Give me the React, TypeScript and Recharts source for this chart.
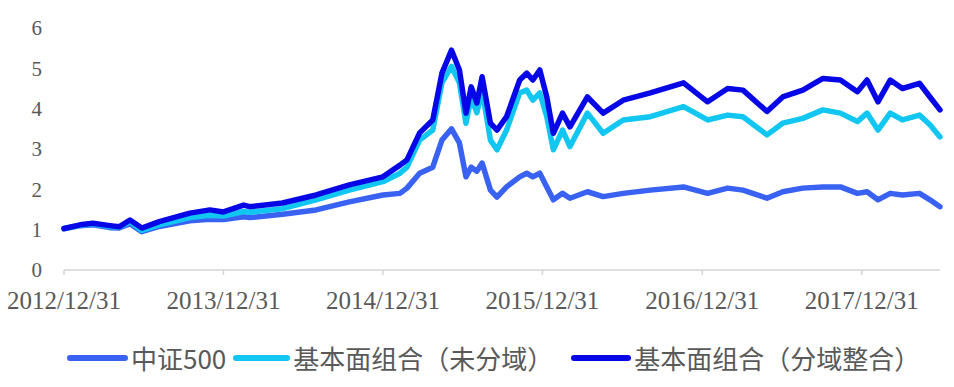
import React from 'react';
import { LineChart, Line, XAxis, YAxis } from 'recharts';

const dates = [
  '2012-12-31', '2013-02-06', '2013-03-07', '2013-04-15', '2013-05-06', '2013-05-31', '2013-06-27',
  '2013-08-06', '2013-10-15', '2013-11-30', '2013-12-31', '2014-02-15', '2014-03-01', '2014-05-15',
  '2014-07-31', '2014-10-15', '2014-12-31', '2015-02-08', '2015-02-24', '2015-03-25', '2015-04-24',
  '2015-05-15', '2015-06-06', '2015-06-24', '2015-07-09', '2015-07-21', '2015-08-03', '2015-08-15',
  '2015-09-03', '2015-09-18', '2015-10-10', '2015-11-09', '2015-11-25', '2015-12-09', '2015-12-25',
  '2016-01-10', '2016-01-25', '2016-02-15', '2016-03-03', '2016-04-12', '2016-05-18', '2016-07-03',
  '2016-09-03', '2016-11-18', '2017-01-12', '2017-02-27', '2017-04-03', '2017-05-28', '2017-07-03',
  '2017-08-18', '2017-10-03', '2017-11-12', '2017-12-21', '2018-01-12', '2018-02-06', '2018-03-06',
  '2018-04-03', '2018-05-12', '2018-06-05', '2018-06-28',
];

const csi500 = [
  1.02, 1.1, 1.12, 1.05, 1.04, 1.15, 0.95,
  1.08, 1.22, 1.26, 1.25, 1.32, 1.3, 1.38,
  1.49, 1.69, 1.86, 1.9, 2.03, 2.4, 2.55,
  3.22, 3.5, 3.15, 2.31, 2.55, 2.45, 2.65,
  1.98, 1.81, 2.06, 2.31, 2.4, 2.31, 2.4,
  2.06, 1.74, 1.9, 1.78, 1.94, 1.82, 1.9,
  1.98, 2.06, 1.9, 2.03, 1.98, 1.78, 1.94,
  2.03, 2.06, 2.06, 1.9, 1.94, 1.74, 1.9,
  1.86, 1.9, 1.74, 1.57,
];

const fundUnsplit = [
  1.03, 1.11, 1.14, 1.08, 1.06, 1.2, 0.98,
  1.12, 1.3, 1.36, 1.34, 1.45, 1.43, 1.52,
  1.74, 1.98, 2.19, 2.4, 2.55, 3.22, 3.47,
  4.64, 5.05, 4.64, 3.64, 4.29, 3.9, 4.46,
  3.22, 2.98, 3.47, 4.39, 4.46, 4.21, 4.39,
  3.8, 2.98, 3.47, 3.06, 3.89, 3.39, 3.72,
  3.8, 4.05, 3.72, 3.84, 3.8, 3.35, 3.64,
  3.76, 3.97, 3.89, 3.68, 3.89, 3.47, 3.89,
  3.72, 3.84, 3.6, 3.3,
];

const fundSplit = [
  1.03, 1.12, 1.16, 1.1, 1.07, 1.24, 1.04,
  1.2, 1.41, 1.49, 1.44, 1.61, 1.57, 1.66,
  1.86, 2.11, 2.31, 2.6, 2.73, 3.4, 3.72,
  4.88, 5.45, 4.96, 3.89, 4.54, 4.14, 4.79,
  3.64, 3.47, 3.8, 4.71, 4.88, 4.71, 4.96,
  4.29, 3.39, 3.89, 3.55, 4.29, 3.89, 4.21,
  4.39, 4.64, 4.17, 4.5, 4.46, 3.93, 4.29,
  4.46, 4.75, 4.71, 4.42, 4.71, 4.17, 4.71,
  4.5, 4.63, 4.29, 3.97,
];

const seriesNames = ['中证500', '基本面组合（未分域）', '基本面组合（分域整合）'];
const seriesColors = ['#3a62f2', '#12c6f2', '#0606e6'];

const tickDates = ['2012-12-31', '2013-12-31', '2014-12-31', '2015-12-31', '2016-12-31', '2017-12-31'];
const yTicks = [0, 1, 2, 3, 4, 5, 6];

const toDay = (s: string) => Date.parse(s + 'T00:00:00Z') / 86400000;
const fmtDate = (v: number) => {
  const d = new Date(v * 86400000);
  return `${d.getUTCFullYear()}/${d.getUTCMonth() + 1}/${d.getUTCDate()}`;
};

const data = dates.map((d, i) => ({
  t: toDay(d),
  a: csi500[i],
  b: fundUnsplit[i],
  c: fundSplit[i],
}));

const keys = ['a', 'b', 'c'];
const swatchWidths = [61, 57, 60];
const itemGaps = [7, 18, 0];

export default function App() {
  return (
    <div style={{ position: 'absolute', left: 0, top: 0, width: 954, height: 387, background: '#fff' }}>
      <LineChart
        width={954}
        height={387}
        data={data}
        margin={{ top: 28, right: 14, left: 0, bottom: 77 }}
      >
        <XAxis
          dataKey="t"
          type="number"
          domain={[toDay(dates[0]), toDay(dates[dates.length - 1])]}
          ticks={tickDates.map(toDay)}
          tickFormatter={fmtDate}
          stroke="#d4d4d4"
          strokeWidth={1.5}
          tickSize={5}
          tickMargin={16}
          height={40}
          interval={0}
          tick={{ fill: '#595959', fontSize: 25, fontFamily: 'Liberation Serif' }}
        />
        <YAxis
          domain={[0, 6]}
          ticks={yTicks}
          width={64}
          axisLine={false}
          tickLine={false}
          tickSize={0}
          tickMargin={22}
          interval={0}
          tick={{ fill: '#595959', fontSize: 21, fontFamily: 'Liberation Serif' }}
        />
        {keys.map((k, i) => (
          <Line
            key={k}
            dataKey={k}
            name={seriesNames[i]}
            stroke={seriesColors[i]}
            strokeWidth={5.5}
            strokeLinejoin="round"
            strokeLinecap="round"
            dot={false}
            type="linear"
            isAnimationActive={false}
          />
        ))}
      </LineChart>
      <div
        style={{
          position: 'absolute',
          left: 67,
          top: 341,
          display: 'flex',
          alignItems: 'center',
          fontFamily: '"Noto Sans CJK SC", "Noto Sans", sans-serif',
          fontSize: 26,
          color: '#595959',
          whiteSpace: 'nowrap',
          lineHeight: '34px',
        }}
      >
        {seriesNames.map((n, i) => (
          <div key={n} style={{ display: 'flex', alignItems: 'center', marginRight: itemGaps[i] }}>
            <div style={{ width: swatchWidths[i], height: 6, borderRadius: 3, background: seriesColors[i], marginRight: 3 }} />
            <span>{n}</span>
          </div>
        ))}
      </div>
    </div>
  );
}
